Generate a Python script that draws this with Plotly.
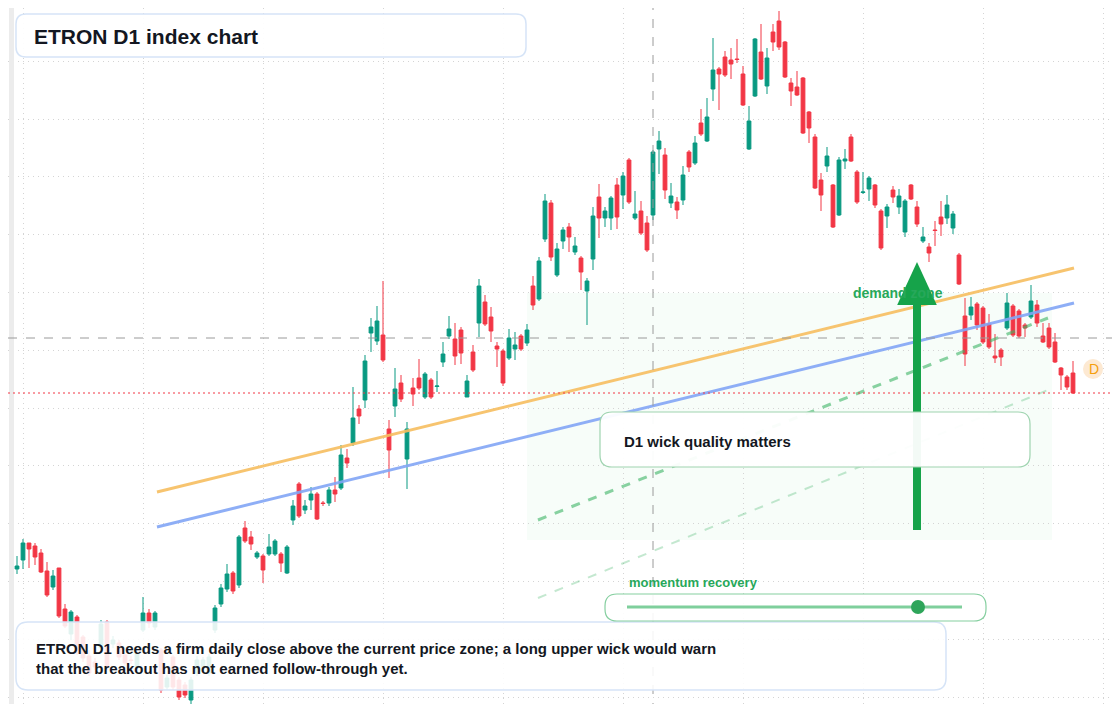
import plotly.graph_objects as go

# OHLC per daily candle (price units)
opens = [13.5, 14.4, 16.1, 15.8, 15.1, 13.3, 11.7, 13.6, 9.5, 7.0, 8.7, 6.7, 4.8, 4.2, 5.6, 8.2, 6.0, 6.1, 4.9, 4.4,
         3.7, 7.4, 9.1, 7.7, 5.4, 1.7, 4.7, 2.4, 1.9, 0.4, 3.1, 3.7, 3.1, 7.4, 10.0, 11.5, 13.1, 11.9, 17.6, 16.7,
         14.7, 14.8, 15.0, 15.0, 15.0, 13.1, 18.4, 22.0, 19.4, 20.4, 21.0, 20.1, 20.1, 21.4, 21.6, 24.6, 26.1, 29.5, 30.4, 37.1,
         36.3, 36.9, 27.5, 29.8, 32.1, 24.5, 31.6, 32.6, 30.7, 32.4, 31.75, 34.2, 36.8, 36.5, 37.4, 30.7, 35.2, 38.1, 40.2, 38.7,
         35.8, 35.3, 34.6, 35.5, 36.8, 36.1, 41.8, 40.5, 46.5, 50.1, 42.9, 46.3, 47.7, 45.2, 44.6, 41.3, 44.5, 50.7, 48.6, 48.6,
         51.9, 50.9, 54.4, 48.6, 49.3, 48.1, 48.9, 55.5, 54.9, 50.1, 50.2, 50.4, 55.2, 54.1, 58.1, 56.3, 61.5, 63.5, 64.7, 64.4,
         64.5, 63.0, 55.5, 60.8, 65.2, 61.8, 67.2, 68.3, 66.2, 62.1, 61.7, 62.6, 59.2, 56.7, 52.4, 53.8, 51.9, 48.9, 54.3, 56.7,
         53.2, 51.15, 51.5, 51.9, 49.3, 48.8, 51.4, 49.7, 47.2, 51.9, 49.7, 46.3, 45.7, 47.4, 48.7, 48.6, 47.6, 44.9, 38.8, 38.9,
         40.0, 39.6, 38.0, 34.8, 35.4, 37.6, 39.8, 39.3, 37.9, 38.7, 39.9, 36.8, 37.6, 36.2, 33.6, 32.7, 33.1]
highs = [14.8, 16.5, 16.1, 16.1, 15.5, 14.2, 13.4, 13.6, 10.0, 9.4, 8.9, 6.9, 5.4, 4.6, 8.4, 8.4, 6.8, 6.4, 5.2, 4.8,
         5.4, 10.7, 9.5, 9.3, 5.6, 2.9, 4.9, 2.7, 2.2, 2.7, 4.8, 4.7, 5.0, 9.9, 12.0, 14.0, 13.3, 16.9, 18.3, 17.3,
         15.3, 15.0, 17.0, 16.5, 15.2, 15.9, 20.4, 22.2, 20.4, 21.7, 21.2, 20.3, 21.7, 22.7, 25.9, 25.5, 31.7, 29.9, 34.9, 38.6,
         39.8, 42.3, 28.4, 33.6, 32.9, 28.2, 32.6, 34.5, 33.2, 32.6, 33.3, 36.2, 38.8, 38.1, 37.7, 32.9, 35.9, 42.5, 40.9, 39.7,
         36.2, 35.5, 37.5, 37.2, 37.0, 38.0, 42.8, 44.7, 51.0, 50.4, 46.1, 47.7, 48.1, 46.7, 44.8, 42.6, 49.7, 52.0, 49.7, 50.8,
         52.6, 53.2, 54.6, 51.3, 50.3, 48.8, 55.4, 57.3, 55.6, 52.1, 50.7, 53.8, 55.4, 56.8, 59.5, 60.6, 66.6, 63.7, 65.3, 65.6,
         66.5, 63.8, 59.8, 66.6, 68.0, 65.6, 68.0, 69.3, 66.3, 62.6, 63.3, 62.7, 59.3, 57.0, 53.1, 55.7, 52.0, 54.7, 55.5, 57.0,
         53.4, 53.2, 52.8, 52.0, 49.5, 50.0, 51.8, 51.5, 50.5, 52.0, 50.3, 47.7, 46.1, 48.3, 50.3, 50.9, 49.3, 45.1, 40.6, 40.7,
         40.2, 39.8, 39.0, 37.0, 35.6, 41.1, 40.0, 39.5, 38.1, 41.9, 40.4, 38.1, 38.1, 37.1, 33.7, 32.9, 34.3]
lows = [13.0, 13.5, 13.6, 13.9, 13.1, 10.7, 11.4, 8.6, 7.6, 6.4, 4.9, 4.2, 2.8, 3.4, 5.2, 3.4, 5.6, 4.4, 3.8, 4.0,
        3.4, 7.2, 7.6, 7.4, 1.1, 1.4, 1.4, 0.4, 0.6, 0.0, 2.8, 3.4, 2.8, 7.1, 9.7, 11.2, 11.0, 11.6, 16.1, 15.4,
        14.5, 12.1, 14.8, 14.8, 13.2, 13.0, 17.9, 18.6, 19.0, 19.4, 18.4, 19.8, 19.8, 20.2, 21.4, 23.6, 25.8, 28.0, 29.6, 35.2,
        35.9, 34.2, 22.6, 28.7, 30.2, 21.5, 29.8, 31.4, 30.5, 30.5, 31.2, 33.7, 36.5, 33.9, 34.0, 30.7, 33.2, 36.7, 37.8, 36.2,
        33.7, 31.8, 34.4, 34.4, 35.3, 35.8, 39.4, 40.3, 46.2, 44.3, 42.7, 45.5, 45.2, 44.9, 41.4, 37.9, 43.4, 46.6, 47.7, 47.4,
        47.5, 49.5, 50.0, 48.4, 46.9, 45.2, 48.4, 53.0, 50.5, 49.6, 48.5, 49.9, 53.2, 53.9, 56.8, 56.2, 60.3, 59.4, 62.7, 62.5,
        64.1, 59.8, 55.4, 60.7, 62.4, 61.0, 65.3, 65.4, 62.6, 59.8, 60.8, 57.0, 56.1, 51.5, 49.3, 53.2, 47.6, 48.8, 53.5, 54.2,
        50.0, 51.0, 50.3, 49.6, 45.4, 47.6, 50.1, 49.0, 46.7, 50.4, 47.7, 46.1, 44.2, 45.8, 46.8, 48.0, 47.0, 41.9, 33.8, 38.4,
        37.4, 36.0, 35.5, 34.1, 33.8, 37.4, 36.7, 36.6, 36.7, 38.5, 37.7, 36.1, 35.5, 34.1, 31.4, 31.4, 31.0]
closes = [13.8, 16.1, 15.5, 14.7, 13.2, 10.9, 12.8, 8.8, 7.8, 9.2, 5.1, 4.6, 3.1, 3.7, 8.0, 3.7, 6.4, 4.7, 4.1, 4.35,
          5.1, 9.1, 8.1, 9.1, 1.4, 2.6, 1.7, 0.7, 0.9, 2.4, 4.4, 4.4, 4.7, 9.6, 11.6, 13.0, 11.3, 16.7, 16.3, 16.0,
          15.1, 13.4, 15.7, 16.3, 14.1, 15.7, 19.8, 18.8, 19.8, 21.0, 18.5, 20.05, 21.4, 21.0, 24.9, 24.1, 28.6, 28.8, 34.3, 37.7,
          38.3, 34.4, 25.4, 31.5, 30.5, 27.5, 31.0, 31.6, 33.0, 30.7, 31.8, 35.0, 37.5, 34.8, 35.1, 32.3, 33.4, 41.8, 38.0, 37.3,
          35.5, 32.1, 36.6, 35.9, 35.5, 37.4, 39.9, 44.3, 50.3, 44.7, 45.5, 47.4, 46.7, 45.8, 43.2, 42.3, 48.8, 48.6, 49.3, 50.6,
          48.7, 52.8, 50.2, 49.0, 47.1, 45.4, 55.2, 56.3, 51.4, 50.8, 49.4, 52.9, 53.7, 56.1, 57.0, 58.7, 63.4, 63.0, 62.9, 64.0,
          64.45, 59.9, 58.3, 66.5, 62.5, 64.6, 66.2, 65.7, 62.7, 61.3, 60.9, 57.1, 57.6, 51.6, 50.9, 54.8, 47.7, 54.4, 54.5, 54.3,
          50.2, 51.2, 52.6, 49.9, 45.6, 49.7, 50.7, 50.8, 50.3, 50.5, 48.0, 46.7, 45.1, 47.35, 48.0, 49.9, 49.0, 42.0, 35.0, 39.7,
          37.9, 36.2, 35.7, 34.6, 34.7, 40.1, 36.9, 36.8, 37.6, 40.3, 38.1, 36.2, 35.7, 34.2, 32.9, 31.7, 31.1]
days = list(range(len(closes)))

# overlay levels
trend_orange = ([23.33, 176.17], [21.2, 43.6])
trend_blue = ([23.33, 176.17], [17.7, 40.1])
channel_main = ([86.83, 171.83], [18.4, 38.6])
channel_low = ([86.83, 171.83], [10.6, 31.4])
zone_x = [85, 172.5]
zone_y = [16.4, 41.1]
arrow_x = 150
arrow_y = [17.4, 44.2]
cross_x = 106
cross_y = 36.6
last_price = closes[-1]
grid_days = list(range(1, 200, 20))
grid_prices = [0.7 + 5.78 * k for k in range(13)]

W, H = 1120, 704
OFF = 8  # page margin the browser adds around the figure
GREEN = '#089981'
RED = '#f23645'


def px(x, y):
    return (x - OFF) / W, 1 - (y - OFF) / H


def rounded(x0, y0, x1, y1, r):
    """ rounded rectangle path in paper coords from pixel box """
    def p(x, y):
        a, b = px(x, y)
        return f'{a:.5f},{b:.5f}'
    return (f'M {p(x0 + r, y0)} L {p(x1 - r, y0)} Q {p(x1, y0)} {p(x1, y0 + r)} '
            f'L {p(x1, y1 - r)} Q {p(x1, y1)} {p(x1 - r, y1)} L {p(x0 + r, y1)} '
            f'Q {p(x0, y1)} {p(x0, y1 - r)} L {p(x0, y0 + r)} Q {p(x0, y0)} {p(x0 + r, y0)} Z')


fig = go.Figure()

fig.add_trace(go.Candlestick(
    x=days, open=opens, high=highs, low=lows, close=closes,
    increasing={'line': {'color': GREEN, 'width': 1}, 'fillcolor': GREEN},
    decreasing={'line': {'color': RED, 'width': 1}, 'fillcolor': RED},
    whiskerwidth=0, showlegend=False, hoverinfo='skip'
))

for (xs, ys), color, width, dash in [
    (trend_orange, 'rgba(246,190,95,0.9)', 3, 'solid'),
    (trend_blue, 'rgba(130,165,245,0.9)', 3, 'solid'),
    (channel_main, 'rgba(60,180,100,0.6)', 3, 'dash'),
    (channel_low, 'rgba(60,180,100,0.3)', 2, 'dash'),
]:
    fig.add_trace(go.Scatter(x=xs, y=ys, mode='lines', showlegend=False, hoverinfo='skip',
                             line={'color': color, 'width': width, 'dash': dash}))

shapes = [
    # left strip
    dict(type='rect', xref='paper', yref='paper', x0=px(9, 0)[0], x1=px(14, 0)[0], y0=0, y1=1.1,
         fillcolor='#ececec', line_width=0, layer='above'),
    # demand zone
    dict(type='rect', x0=zone_x[0], x1=zone_x[1], y0=zone_y[0], y1=zone_y[1],
         fillcolor='rgba(34,197,94,0.035)', line_width=0, layer='below'),
    # crosshair
    dict(type='line', xref='paper', x0=0, x1=1, y0=cross_y, y1=cross_y,
         line={'color': '#9a9a9a', 'width': 1, 'dash': 'dash'}),
    dict(type='line', yref='paper', x0=cross_x, x1=cross_x, y0=0, y1=1,
         line={'color': '#9a9a9a', 'width': 1, 'dash': 'dash'}),
    # last price line
    dict(type='line', xref='paper', x0=0, x1=1, y0=last_price, y1=last_price,
         line={'color': RED, 'width': 1, 'dash': '2px,3px'}),
    # arrow
    dict(type='line', x0=arrow_x, x1=arrow_x, y0=arrow_y[0], y1=arrow_y[1] - 3,
         line={'color': '#16a34a', 'width': 8}),
    dict(type='path', path=f'M {arrow_x - 3.3},{arrow_y[1] - 4.3} L {arrow_x},{arrow_y[1]} L {arrow_x + 3.3},{arrow_y[1] - 4.3} Z',
         fillcolor='#16a34a', line_width=0),
    # boxes
    dict(type='path', xref='paper', yref='paper', path=rounded(16, 14, 526, 57, 10),
         fillcolor='rgba(255,255,255,0.92)', line={'color': '#d6e4f7', 'width': 1.5}),
    dict(type='path', xref='paper', yref='paper', path=rounded(16, 622, 946, 690, 12),
         fillcolor='rgba(255,255,255,0.88)', line={'color': '#d6e4f7', 'width': 1.5}),
    dict(type='path', xref='paper', yref='paper', path=rounded(600, 412, 1030, 467, 12),
         fillcolor='rgba(255,255,255,0.95)', line={'color': '#9fd4b0', 'width': 1.2}),
    dict(type='path', xref='paper', yref='paper', path=rounded(605, 594, 986, 621, 12),
         fillcolor='rgba(255,255,255,0.9)', line={'color': '#86cfa0', 'width': 1.2}),
    dict(type='line', xref='paper', yref='paper', x0=px(627, 0)[0], x1=px(962, 0)[0],
         y0=px(0, 607)[1], y1=px(0, 607)[1], line={'color': '#7fcf9c', 'width': 3}),
    dict(type='circle', xref='paper', yref='paper', x0=px(911, 0)[0], x1=px(925, 0)[0],
         y0=px(0, 614)[1], y1=px(0, 600)[1], fillcolor='#2ea55a', line_width=0),
    # D badge
    dict(type='circle', xref='paper', yref='paper', x0=px(1083, 0)[0], x1=px(1103, 0)[0],
         y0=px(0, 379)[1], y1=px(0, 359)[1], fillcolor='#fde9d2', line_width=0),
    # right axis label stub
    dict(type='rect', xref='paper', yref='paper', x0=px(1114, 0)[0], x1=1.05,
         y0=px(0, 349)[1], y1=px(0, 328)[1], fillcolor='#111111', line_width=0),
]
fig.update_layout(shapes=shapes)

font = 'Liberation Sans, Arial, sans-serif'
ann = [
    (32, 36, '<b>ETRON D1 index chart</b>', 21, '#131722'),
    (34, 648, '<b>ETRON D1 needs a firm daily close above the current price zone; a long upper wick would warn</b>', 15, '#131722'),
    (34, 668, '<b>that the breakout has not earned follow-through yet.</b>', 15, '#131722'),
    (622, 441, '<b>D1 wick quality matters</b>', 15, '#131722'),
    (627, 582, '<b>momentum recovery</b>', 13, '#27a85a'),
    (851, 293, '<b>demand zone</b>', 14, '#27a85a'),
    (1087, 369, 'D', 14, '#f59e0b'),
]
for x, y, text, size, color in ann:
    a, b = px(x, y)
    fig.add_annotation(xref='paper', yref='paper', x=a, y=b, text=text,
                       showarrow=False, xanchor='left', yanchor='middle',
                       font={'family': font, 'size': size, 'color': color})

# pixel 17 on the page is candle 0, 6 px per candle
fig.update_xaxes(range=[-(17 - OFF) / 6, (W - 17 + OFF) / 6], showticklabels=False, zeroline=False,
                 showgrid=True, gridcolor='#d4d4d4', griddash='1px,4px', tickmode='array',
                 tickvals=grid_days, rangeslider_visible=False)
fig.update_yaxes(range=[-OFF / 10, 70.4 - OFF / 10], showticklabels=False, zeroline=False,
                 showgrid=True, gridcolor='#d4d4d4', griddash='1px,4px', tickmode='array',
                 tickvals=grid_prices)
fig.update_layout(width=W, height=H, margin={'l': 0, 'r': 0, 't': 0, 'b': 0},
                  plot_bgcolor='white', paper_bgcolor='white', showlegend=False, boxgap=0.1)
fig.write_html('out.html')
